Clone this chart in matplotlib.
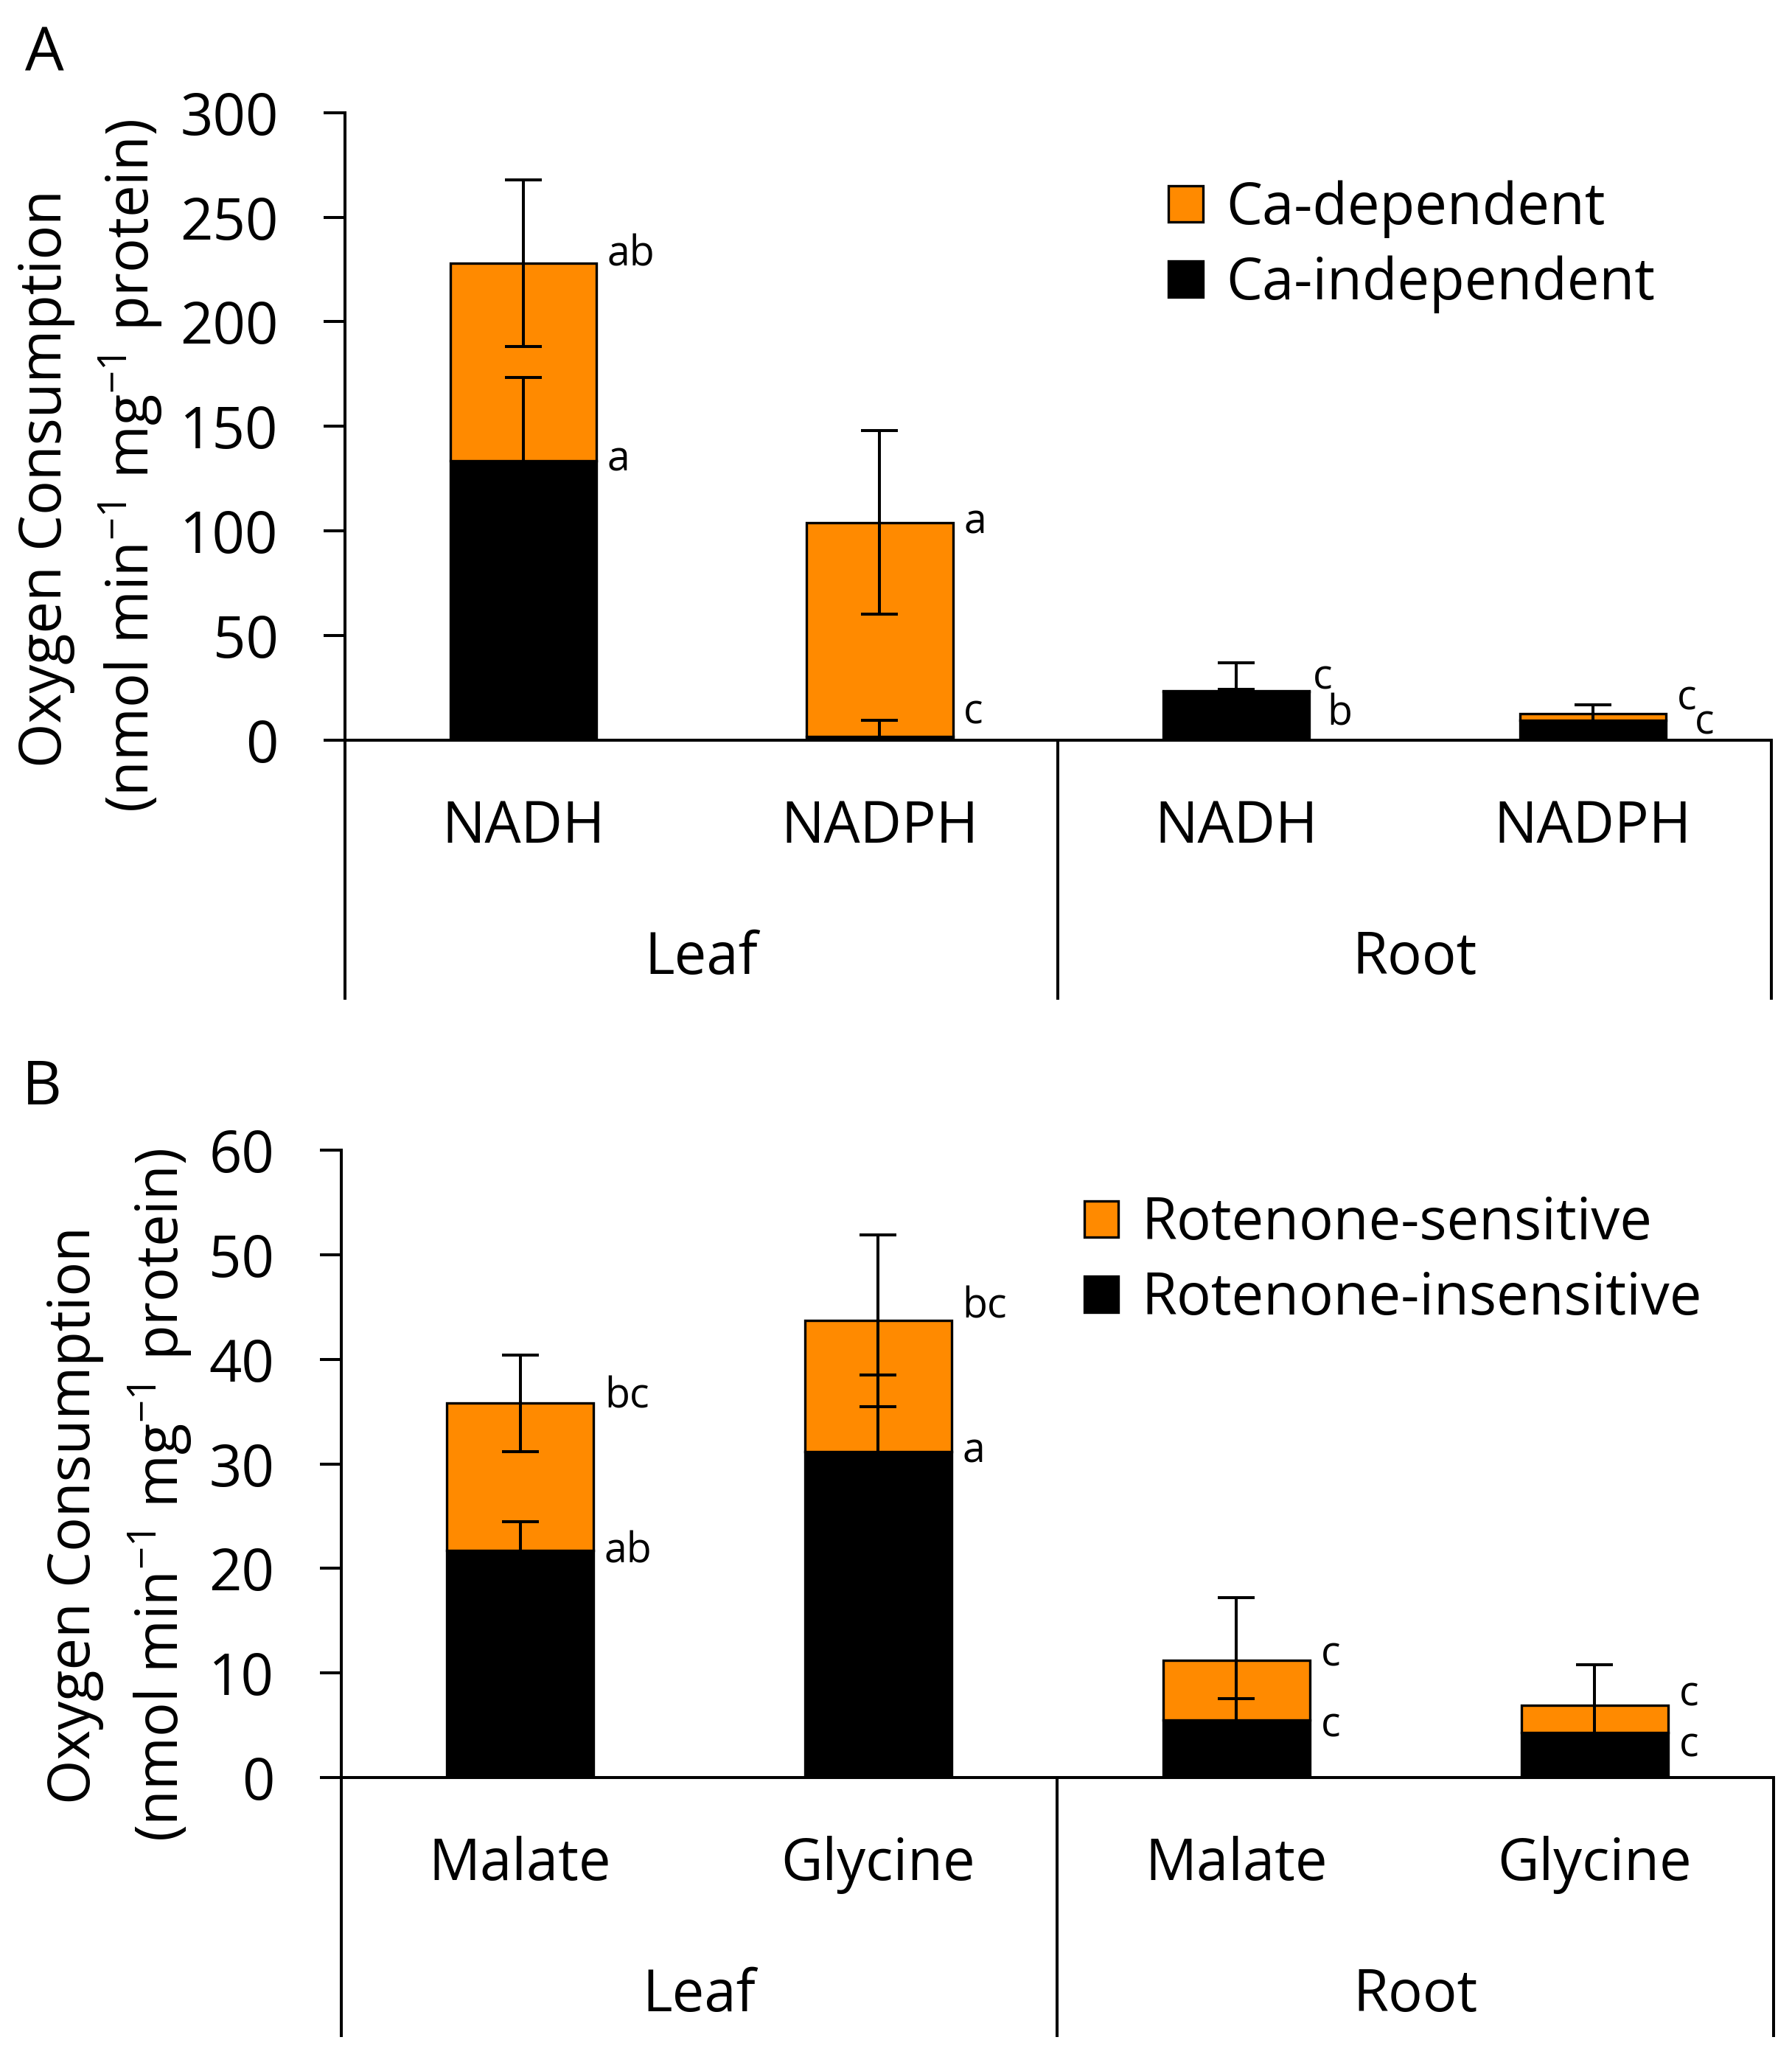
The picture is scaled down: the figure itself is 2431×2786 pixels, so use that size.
import matplotlib
matplotlib.use("Agg")
import matplotlib.pyplot as plt
import matplotlib.transforms as mtransforms
from matplotlib.patches import Patch
import numpy as np

plt.rcParams['font.family'] = ['Open Sans', 'DejaVu Sans']
plt.rcParams['mathtext.fontset'] = 'custom'
plt.rcParams['mathtext.rm'] = 'Open Sans'
plt.rcParams['mathtext.default'] = 'regular'

ORANGE = '#FF8A00'

# ---- data ----
groups = ["Leaf", "Root"]

cats_A = ["NADH", "NADPH", "NADH", "NADPH"]
ca_indep = [133.5, 1.5, 23.0, 9.5]
ca_indep_err = [40.0, 8.0, 1.3, 0.0]
ca_dep = [94.5, 102.5, 0.3, 3.2]
ca_dep_err = [40.0, 44.0, 13.4, 4.1]
letters_A = ["ab", "a", "a", "c", "c", "b", "c", "c"]
letters_A_bar = [0, 0, 1, 1, 2, 2, 3, 3]
letters_A_y = [232, 134, 104, 13, 29.5, 12, 19.5, 8]
letters_A_dx = [0.03, 0.03, 0.03, 0.03, 0.01, 0.05, 0.03, 0.08]

cats_B = ["Malate", "Glycine", "Malate", "Glycine"]
rot_ins = [21.7, 31.2, 5.5, 4.3]
rot_ins_err = [2.8, 7.3, 2.0, 0.0]
rot_sen = [14.1, 12.5, 5.7, 2.6]
rot_sen_err = [4.6, 8.2, 6.0, 3.9]
letters_B = ["bc", "ab", "bc", "a", "c", "c", "c", "c"]
letters_B_bar = [0, 0, 1, 1, 2, 2, 3, 3]
letters_B_y = [36.4, 21.6, 45.0, 31.2, 11.7, 4.9, 7.9, 3.0]
letters_B_dx = [0.03] * 8

FS = 56
W = 0.41
LW = 2.4      # bar edges
ALW = 2.9     # axis / error bar lines


def panel(ax, cats, bottom, bottom_err, top, top_err, ymax, step,
          letters, l_bar, l_y, l_dx, names, leg_anchor):
    x = np.arange(len(cats))
    ax.bar(x, bottom, W, color='black', edgecolor='black', linewidth=LW,
           label=names[1], zorder=2)
    ax.bar(x, top, W, bottom=bottom, color=ORANGE, edgecolor='black',
           linewidth=LW, label=names[0], zorder=2)
    tot = np.array(bottom) + np.array(top)
    for i in range(len(cats)):
        if bottom_err[i] > 0:
            ax.errorbar(x[i], bottom[i], yerr=bottom_err[i], fmt='none',
                        ecolor='black', elinewidth=ALW, capsize=18,
                        capthick=ALW, zorder=3)
        if top_err[i] > 0:
            ax.errorbar(x[i], tot[i], yerr=top_err[i], fmt='none',
                        ecolor='black', elinewidth=ALW, capsize=18,
                        capthick=ALW, zorder=3)
    for t, b, yv, dx in zip(letters, l_bar, l_y, l_dx):
        ax.text(b + W / 2 + dx, yv, t, fontsize=40, ha='left', va='center')

    ax.set_xlim(-0.5, len(cats) - 0.5)
    ax.set_ylim(0, ymax)
    ax.set_yticks(np.arange(0, ymax + 1, step))
    ax.tick_params(axis='y', direction='out', length=21, width=ALW,
                   pad=44, labelsize=FS)
    ax.set_xticks([])
    for s in ['top', 'right']:
        ax.spines[s].set_visible(False)
    ax.spines['left'].set_linewidth(ALW)
    ax.spines['bottom'].set_linewidth(ALW)

    trans = mtransforms.blended_transform_factory(ax.transData, ax.transAxes)
    for xv in [-0.5, 1.5, 3.5]:
        ax.plot([xv, xv], [0, -0.414], color='black', lw=ALW,
                transform=trans, clip_on=False, solid_capstyle='butt')
    for i, c in enumerate(cats):
        ax.text(i, -0.140, c, fontsize=FS, ha='center', va='center',
                transform=trans)
    for j, g in enumerate(groups):
        ax.text(0.5 + 2 * j, -0.349, g, fontsize=FS, ha='center',
                va='center', transform=trans)

    handles = [Patch(facecolor=ORANGE, edgecolor='black', linewidth=LW),
               Patch(facecolor='black', edgecolor='black', linewidth=LW)]
    ax.legend(handles, names, loc='upper left', bbox_to_anchor=leg_anchor,
              bbox_transform=ax.figure.transFigure, frameon=False,
              fontsize=FS, handlelength=0.6, handleheight=0.6,
              handletextpad=0.4, labelspacing=0.3, borderpad=0,
              borderaxespad=0)


fig = plt.figure(figsize=(24.31, 27.86), dpi=100)
axA = fig.add_axes([0.1925, 0.6398, 0.7958, 0.3053])
axB = fig.add_axes([0.1903, 0.1347, 0.7995, 0.3052])

panel(axA, cats_A, ca_indep, ca_indep_err, ca_dep, ca_dep_err, 300, 50,
      letters_A, letters_A_bar, letters_A_y, letters_A_dx,
      ["Ca-dependent", "Ca-independent"], (0.652, 0.9125))
panel(axB, cats_B, rot_ins, rot_ins_err, rot_sen, rot_sen_err, 60, 10,
      letters_B, letters_B_bar, letters_B_y, letters_B_dx,
      ["Rotenone-sensitive", "Rotenone-insensitive"], (0.605, 0.4183))

ylab2 = "(nmol min$^{-1}$ mg$^{-1}$ protein)"
fig.text(0.0256, 0.767, "Oxygen Consumption", rotation=90, fontsize=FS,
         ha='center', va='center')
fig.text(0.073, 0.773, ylab2, rotation=90, fontsize=FS,
         ha='center', va='center')
fig.text(0.0417, 0.2625, "Oxygen Consumption", rotation=90, fontsize=FS,
         ha='center', va='center')
fig.text(0.0893, 0.272, ylab2, rotation=90, fontsize=FS,
         ha='center', va='center')

fig.text(0.0249, 0.973, "A", fontsize=60, ha='center', va='center')
fig.text(0.0234, 0.470, "B", fontsize=60, ha='center', va='center')

fig.savefig("out.png", dpi=100, facecolor='white')
